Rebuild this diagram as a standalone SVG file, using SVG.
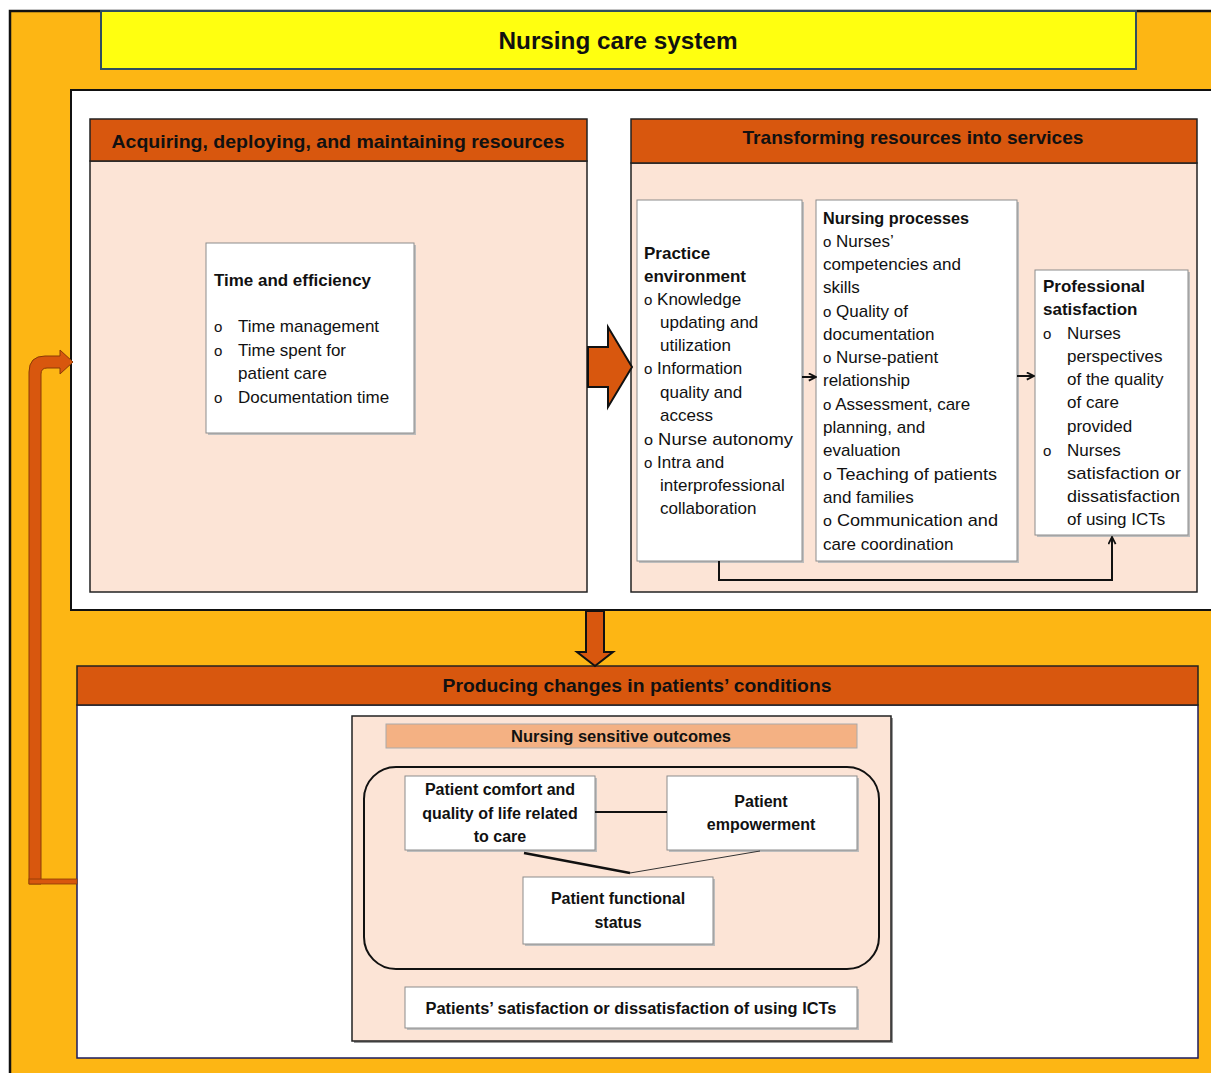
<svg xmlns="http://www.w3.org/2000/svg" width="1211" height="1073" viewBox="0 0 1211 1073">
<defs>
<style>
.t{font-family:"Liberation Sans",Arial,sans-serif;fill:#111}
.b{font-weight:bold}
.s17{font-size:17px}
.bul{font-size:15px}
.hdr{fill:#D8570E;stroke:#222;stroke-width:1.5}
.peach{fill:#FCE4D6;stroke:#222;stroke-width:1.5}
.wbox{fill:#fff;stroke:#8c8c8c;stroke-width:1}
.shadow{fill:#bdbdbd}
.conn{fill:none;stroke:#111;stroke-width:2}
.big{fill:#D8570E;stroke:#111;stroke-width:2;stroke-linejoin:miter}
</style>
<marker id="ah" viewBox="0 0 10 10" refX="9" refY="5" markerWidth="9" markerHeight="9" orient="auto" markerUnits="userSpaceOnUse">
<path d="M1,1 L9,5 L1,9" fill="none" stroke="#111" stroke-width="2"/>
</marker>
</defs>

<!-- background -->
<rect x="0" y="0" width="1211" height="1073" fill="#fff"/>
<rect x="10" y="11" width="1215" height="1070" fill="#FDB614" stroke="#111" stroke-width="2.5"/>

<g id="title">
<rect x="101" y="11" width="1035" height="58" fill="#FFFF10" stroke="#2f4f5f" stroke-width="2"/>
<text class="t b" x="618" y="49" font-size="24" text-anchor="middle" textLength="239" lengthAdjust="spacingAndGlyphs">Nursing care system</text>
</g>

<!-- upper white panel -->
<rect x="71" y="90" width="1160" height="520" fill="#fff" stroke="#111" stroke-width="2"/>

<g id="acquiring">
<rect class="peach" x="90" y="161" width="497" height="431"/>
<rect class="hdr" x="90" y="119" width="497" height="42"/>
<text class="t b" x="338" y="148" font-size="19" text-anchor="middle" textLength="453" lengthAdjust="spacingAndGlyphs">Acquiring, deploying, and maintaining resources</text>
</g>

<g id="time-efficiency">
<rect class="shadow" x="208" y="245" width="208" height="190"/>
<rect class="wbox" x="206" y="243" width="208" height="190"/>
<text class="t b s17" x="214" y="286" textLength="157" lengthAdjust="spacingAndGlyphs">Time and efficiency</text>
<g class="t s17">
<text x="214" y="332" class="bul">o</text><text x="238" y="332">Time management</text>
<text x="214" y="356" class="bul">o</text><text x="238" y="356">Time spent for</text>
<text x="238" y="379">patient care</text>
<text x="214" y="403" class="bul">o</text><text x="238" y="403">Documentation time</text>
</g>
</g>

<g id="transforming">
<rect class="peach" x="631" y="163" width="566" height="429"/>
<rect class="hdr" x="631" y="119" width="566" height="44"/>
<text class="t b" x="913" y="144" font-size="19" text-anchor="middle" textLength="341" lengthAdjust="spacingAndGlyphs">Transforming resources into services</text>
</g>

<g id="practice-environment">
<rect class="shadow" x="639" y="202" width="165" height="361"/>
<rect class="wbox" x="637" y="200" width="165" height="361"/>
<g class="t s17">
<text class="b" x="644" y="259">Practice</text>
<text class="b" x="644" y="282">environment</text>
<text x="644" y="305"><tspan class="bul">o</tspan> Knowledge</text>
<text x="660" y="328">updating and</text>
<text x="660" y="351">utilization</text>
<text x="644" y="374"><tspan class="bul">o</tspan> Information</text>
<text x="660" y="398">quality and</text>
<text x="660" y="421">access</text>
<text x="644" y="445" textLength="149" lengthAdjust="spacingAndGlyphs"><tspan class="bul">o</tspan> Nurse autonomy</text>
<text x="644" y="468"><tspan class="bul">o</tspan> Intra and</text>
<text x="660" y="491">interprofessional</text>
<text x="660" y="514">collaboration</text>
</g>
</g>

<g id="nursing-processes">
<rect class="shadow" x="818" y="202" width="201" height="361"/>
<rect class="wbox" x="816" y="200" width="201" height="361"/>
<g class="t s17">
<text class="b" x="823" y="224" textLength="146" lengthAdjust="spacingAndGlyphs">Nursing processes</text>
<text x="823" y="247"><tspan class="bul">o</tspan> Nurses’</text>
<text x="823" y="270">competencies and</text>
<text x="823" y="293">skills</text>
<text x="823" y="317"><tspan class="bul">o</tspan> Quality of</text>
<text x="823" y="340">documentation</text>
<text x="823" y="363"><tspan class="bul">o</tspan> Nurse-patient</text>
<text x="823" y="386">relationship</text>
<text x="823" y="410"><tspan class="bul">o</tspan> Assessment, care</text>
<text x="823" y="433">planning, and</text>
<text x="823" y="456">evaluation</text>
<text x="823" y="480" textLength="174" lengthAdjust="spacingAndGlyphs"><tspan class="bul">o</tspan> Teaching of patients</text>
<text x="823" y="503">and families</text>
<text x="823" y="526" textLength="175" lengthAdjust="spacingAndGlyphs"><tspan class="bul">o</tspan> Communication and</text>
<text x="823" y="550">care coordination</text>
</g>
</g>

<g id="professional-satisfaction">
<rect class="shadow" x="1037" y="272" width="153" height="265"/>
<rect class="wbox" x="1035" y="270" width="153" height="265"/>
<g class="t s17">
<text class="b" x="1043" y="292">Professional</text>
<text class="b" x="1043" y="315">satisfaction</text>
<text x="1043" y="339" class="bul">o</text><text x="1067" y="339">Nurses</text>
<text x="1067" y="362">perspectives</text>
<text x="1067" y="385">of the quality</text>
<text x="1067" y="408">of care</text>
<text x="1067" y="432">provided</text>
<text x="1043" y="456" class="bul">o</text><text x="1067" y="456">Nurses</text>
<text x="1067" y="479" textLength="114" lengthAdjust="spacingAndGlyphs">satisfaction or</text>
<text x="1067" y="502" textLength="113" lengthAdjust="spacingAndGlyphs">dissatisfaction</text>
<text x="1067" y="525">of using ICTs</text>
</g>
</g>

<g id="producing">
<rect x="77" y="705" width="1121" height="353" fill="#fff" stroke="#1b1b5e" stroke-width="1.5"/>
<rect class="hdr" x="77" y="666" width="1121" height="39"/>
<text class="t b" x="637" y="692" font-size="19" text-anchor="middle" textLength="389" lengthAdjust="spacingAndGlyphs">Producing changes in patients’ conditions</text>
</g>

<g id="outcomes-panel">
<rect x="354" y="718" width="539" height="325" fill="#999"/>
<rect class="peach" x="352" y="716" width="539" height="325"/>
</g>

<g id="nursing-sensitive-outcomes">
<rect x="386" y="724" width="471" height="24" fill="#F4B183" stroke="#aaa" stroke-width="1"/>
<text class="t b" x="621" y="742" font-size="16" text-anchor="middle" textLength="220" lengthAdjust="spacingAndGlyphs">Nursing sensitive outcomes</text>
</g>

<g id="outcomes-group">
<rect x="364" y="767" width="515" height="202" rx="32" ry="32" fill="none" stroke="#111" stroke-width="2"/>
</g>

<g id="patient-comfort">
<rect class="shadow" x="407" y="778" width="190" height="74"/>
<rect class="wbox" x="405" y="776" width="190" height="74"/>
<g class="t b" font-size="16" text-anchor="middle">
<text x="500" y="795">Patient comfort and</text>
<text x="500" y="819">quality of life related</text>
<text x="500" y="842">to care</text>
</g>
</g>

<g id="patient-empowerment">
<rect class="shadow" x="669" y="778" width="190" height="74"/>
<rect class="wbox" x="667" y="776" width="190" height="74"/>
<g class="t b" font-size="16" text-anchor="middle">
<text x="761" y="807">Patient</text>
<text x="761" y="830">empowerment</text>
</g>
</g>

<g id="patient-functional">
<rect class="shadow" x="525" y="879" width="190" height="67"/>
<rect class="wbox" x="523" y="877" width="190" height="67"/>
<g class="t b" font-size="16" text-anchor="middle">
<text x="618" y="904">Patient functional</text>
<text x="618" y="928">status</text>
</g>
</g>

<g id="patients-satisfaction">
<rect class="shadow" x="407" y="989" width="452" height="41"/>
<rect class="wbox" x="405" y="987" width="452" height="41"/>
<text class="t b" x="631" y="1014" font-size="16" text-anchor="middle" textLength="411" lengthAdjust="spacingAndGlyphs">Patients’ satisfaction or dissatisfaction of using ICTs</text>
</g>

<g id="connectors">
<polygon class="big" points="588,347 608,347 608,327 632,367 608,407 608,387 588,387"/>
<polygon class="big" points="586,611 604,611 604,652 613,652 595,666 577,652 586,652"/>
<path d="M29,884 L29,372 Q29,356 45,356 L60,356 L60,350 L73,362 L60,374 L60,368 L47,368 Q41,368 41,374 L41,884 Z" fill="#D8570E" stroke="#8a3a06" stroke-width="1"/>
<rect x="29" y="879" width="48" height="5" fill="#D8570E" stroke="#8a3a06" stroke-width="0.8"/>
<line class="conn" x1="802" y1="377" x2="816" y2="377" marker-end="url(#ah)"/>
<line class="conn" x1="1017" y1="376" x2="1034" y2="376" marker-end="url(#ah)"/>
<polyline class="conn" points="719,561 719,580 1112,580 1112,537" marker-end="url(#ah)"/>
<line x1="595" y1="812" x2="667" y2="812" stroke="#111" stroke-width="2"/>
<line x1="524" y1="853" x2="630" y2="873" stroke="#111" stroke-width="2.5"/>
<line x1="630" y1="873" x2="760" y2="851" stroke="#333" stroke-width="1"/>
</g>
</svg>
